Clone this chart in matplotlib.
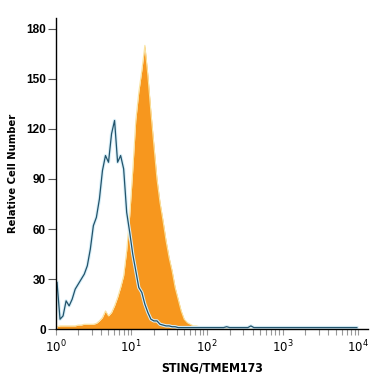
import numpy as np
import matplotlib
matplotlib.use("Agg")
import matplotlib.pyplot as plt
from matplotlib.ticker import LogLocator, NullFormatter
from matplotlib.font_manager import FontProperties

# ---- data: counts per log bin (0.04 decade wide, starting at 10^0) ----
bin_width_decades = 0.04

sting_counts = [1.5, 2, 2, 2, 2, 2, 2, 2.5, 2.5, 3,
                3, 3, 3, 3.5, 5, 7, 11, 8, 10, 14,
                19, 25, 32, 47, 68, 95, 125, 142, 155, 170,
                152, 130, 110, 90, 76, 65, 53, 43, 35, 25,
                18, 11, 6, 4, 3, 2, 2, 1.5, 1.5, 1,
                1, 1, 1, 0.5, 0.5, 1, 0.5, 0.5, 0.5, 0.5,
                0, 0, 0, 0, 0, 0, 0, 0, 0, 0,
                0, 0, 0, 0, 0, 0, 0, 0, 0, 0,
                0, 0, 0, 0, 0, 0, 0, 0, 0, 0,
                0, 0, 0, 0, 0, 0, 0, 0, 0, 0]

isotype_counts = [28, 6, 8, 17, 14, 18, 24, 27, 30, 33,
                  38, 48, 62, 67, 78, 95, 104, 100, 117, 125,
                  100, 104, 96, 70, 58, 45, 35, 25, 22, 15,
                  10, 6, 5, 5, 3, 2.5, 2, 2, 1.5, 1.5,
                  1, 1, 1, 1, 1, 1, 1, 1, 1, 1,
                  1, 1, 1, 1, 1, 1, 1.5, 1, 1, 1,
                  1, 1, 1, 1, 2, 1, 1, 1, 1, 1,
                  1, 1, 1, 1, 1, 1, 1, 1, 1, 1,
                  1, 1, 1, 1, 1, 1, 1, 1, 1, 1,
                  1, 1, 1, 1, 1, 1, 1, 1, 1, 1]

y_ticks = [0, 30, 60, 90, 120, 150, 180]
x_ticks = [1, 10, 100, 1000, 10000]
x_tick_labels = [r"$10^0$", r"$10^1$", r"$10^2$", r"$10^3$", r"$10^4$"]
x_label = "STING/TMEM173"
y_label = "Relative Cell Number"

# ---- figure ----
fig = plt.figure(figsize=(3.75, 3.75), dpi=100)
ax = fig.add_axes([0.148, 0.122, 0.834, 0.831])

centers = 10 ** (bin_width_decades * (np.arange(len(sting_counts)) + 0.5))

ax.fill_between(centers, sting_counts, 0, color="#F7971E", lw=0, zorder=2)
ax.plot(centers, sting_counts, color="#F9E3A0", lw=0.8, zorder=2.1)
ax.plot(centers, isotype_counts, color="#D6EEF8", lw=2.4, zorder=3)
ax.plot(centers, isotype_counts, color="#22536B", lw=0.9, zorder=4)

ax.set_xscale("log")
ax.set_xlim(1, 10 ** 4.13)
ax.set_ylim(0, 186.6)

for s in ["top", "right"]:
    ax.spines[s].set_visible(False)
for s in ["left", "bottom"]:
    ax.spines[s].set_linewidth(1.0)
    ax.spines[s].set_color("black")
    ax.spines[s].set_zorder(5)

ax.set_yticks(y_ticks)
ax.set_xticks(x_ticks)
ax.set_xticklabels(x_tick_labels)
ax.xaxis.set_minor_locator(LogLocator(base=10, subs=np.arange(2, 10), numticks=20))
ax.xaxis.set_minor_formatter(NullFormatter())

tick_fp = FontProperties(family=["Liberation Sans", "DejaVu Sans"], weight="bold", size=8.5)
for lab in ax.get_yticklabels() + ax.get_xticklabels():
    lab.set_fontproperties(tick_fp)

ax.tick_params(axis="y", which="major", direction="out", length=5.5, width=0.8,
               color="#555555", pad=1.5)
ax.tick_params(axis="x", which="both", direction="out", length=4, width=0.8,
               color="#999999", pad=3)

xlabel_fp = FontProperties(family="DejaVu Sans", stretch="condensed", weight="bold", size=8.8)
ylabel_fp = FontProperties(family="DejaVu Sans", stretch="condensed", weight="bold", size=8.0)
ax.set_xlabel(x_label, labelpad=4, fontproperties=xlabel_fp)
ax.set_ylabel(y_label, labelpad=6, fontproperties=ylabel_fp)

fig.savefig("out.png", dpi=100)
